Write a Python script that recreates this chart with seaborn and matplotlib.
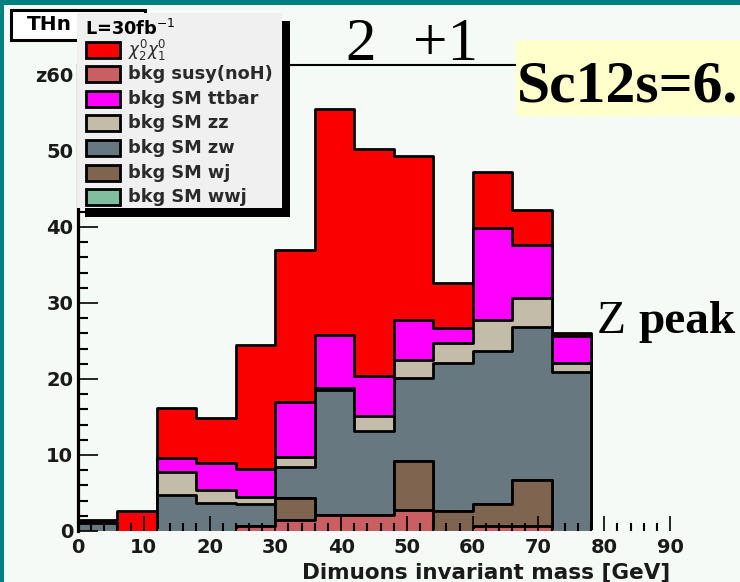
import numpy as np
import pandas as pd
import matplotlib
matplotlib.use("Agg")
import matplotlib.pyplot as plt
import seaborn as sns
from matplotlib.patches import Rectangle

# ---- histogram content: dimuon invariant mass, 6 GeV bins from 0 to 78 GeV ----
bin_edges = [0, 6, 12, 18, 24, 30, 36, 42, 48, 54, 60, 66, 72, 78]

# stacked from the bottom up
bkg_susy  = [0.0, 0.0, 0.0, 0.0, 0.6, 1.4, 2.1, 2.1, 2.8, 0.0, 0.6, 0.6, 0.0]
bkg_wj    = [0.0, 0.0, 0.0, 0.0, 0.0, 2.9, 0.0, 0.0, 6.4, 2.6, 3.0, 6.1, 0.0]
bkg_wwj   = [0.0, 0.0, 0.0, 0.0, 0.0, 0.0, 0.0, 0.0, 0.0, 0.0, 0.0, 0.0, 0.0]
bkg_zw    = [1.0, 0.0, 4.7, 3.7, 2.9, 4.1, 16.4, 11.1, 10.9, 19.5, 20.1, 20.1, 20.9]
bkg_zz    = [0.0, 0.0, 3.1, 1.7, 1.0, 1.3, 0.3, 1.9, 2.4, 2.6, 4.1, 3.8, 1.2]
bkg_ttbar = [0.0, 0.0, 1.8, 3.5, 3.7, 7.3, 7.0, 5.3, 5.3, 2.0, 12.1, 7.0, 3.6]
signal    = [0.5, 2.6, 6.6, 6.0, 16.3, 20.0, 29.7, 29.9, 21.5, 5.9, 7.3, 4.6, 0.3]

layer_names = ["bkg susy(noH)", "bkg SM wj", "bkg SM wwj", "bkg SM zw",
               "bkg SM zz", "bkg SM ttbar", "signal"]
layer_values = [bkg_susy, bkg_wj, bkg_wwj, bkg_zw, bkg_zz, bkg_ttbar, signal]
layer_colors = ["#c95f62", "#7f6550", "#7fbf9f", "#687881",
                "#c2bca9", "#ff00ff", "#fa0000"]

# legend order (top to bottom)
legend_labels = [r"$\chi^{0}_{2}\chi^{0}_{1}$", "bkg susy(noH)",
                 "bkg SM ttbar", "bkg SM zz", "bkg SM zw", "bkg SM wj", "bkg SM wwj"]
legend_colors = ["#fa0000", "#c95f62", "#ff00ff", "#c2bca9",
                 "#687881", "#7f6550", "#7fbf9f"]

y_tick_values = [0, 10, 20, 30, 40, 50, 60]
y_tick_labels = ["0", "10", "20", "30", "40", "50", "z60"]
x_tick_values = [0, 10, 20, 30, 40, 50, 60, 70, 80, 90]

W, H = 740, 582
BG = "#f5faf7"
Y_MAX = 61.3
EDGE_CUT = 0.25   # outlines are kept off the zero line

plt.rcParams["font.family"] = ["DejaVu Sans"]

fig = plt.figure(figsize=(W / 100, H / 100), dpi=100)
fig.patch.set_facecolor(BG)
ax = fig.add_axes([78 / W, 51 / H, 592 / W, 466 / H])
ax.set_facecolor(BG)
ax.set_xlim(0, 90)
ax.set_ylim(0, Y_MAX)

# cumulative stack, drawn from the total down like a THStack
centers = [(a + b) / 2 for a, b in zip(bin_edges[:-1], bin_edges[1:])]
cumulative = np.cumsum(np.array(layer_values), axis=0)

upper_clip = Rectangle((0, EDGE_CUT), 90, Y_MAX, transform=ax.transData)
lower_clip = Rectangle((0, 0), 90, EDGE_CUT, transform=ax.transData)

for i in reversed(range(len(layer_values))):
    frame = pd.DataFrame({"mass": centers, "events": cumulative[i]})
    # outlined fill above the zero line
    n_before = len(ax.collections)
    sns.histplot(data=frame, x="mass", weights="events", bins=bin_edges,
                 element="step", fill=True, color=layer_colors[i], alpha=1.0,
                 edgecolor="black", linewidth=2.0, ax=ax)
    for coll in ax.collections[n_before:]:
        coll.set_clip_path(upper_clip)
    # plain fill for the thin strip on the zero line
    n_before = len(ax.collections)
    sns.histplot(data=frame, x="mass", weights="events", bins=bin_edges,
                 element="step", fill=True, color=layer_colors[i], alpha=1.0,
                 linewidth=0, ax=ax)
    for coll in ax.collections[n_before:]:
        coll.set_clip_path(lower_clip)

ax.set_xlim(0, 90)
ax.set_ylim(0, Y_MAX)

for side in ("right", "bottom"):
    ax.spines[side].set_visible(False)
ax.spines["left"].set_linewidth(2.3)
ax.spines["top"].set_linewidth(1.5)

ax.set_xticks(x_tick_values)
ax.set_xticks(np.arange(0, 91, 2), minor=True)
ax.set_yticks(y_tick_values)
ax.set_yticks(np.arange(0, 61, 2), minor=True)
ax.set_yticklabels(y_tick_labels)
ax.tick_params(axis="x", which="major", direction="in", length=10.5, width=1.2,
               top=False, labelsize=14, pad=5, labelcolor="#1a1a1a")
ax.tick_params(axis="x", which="minor", direction="in", length=6, width=1.5, top=False)
ax.tick_params(axis="y", which="major", direction="in", length=14.5, width=1.2,
               right=False, labelsize=14, pad=3.5, labelcolor="#1a1a1a")
ax.tick_params(axis="y", which="minor", direction="in", length=7.2, width=1.5, right=False)
plt.setp(ax.get_xticklabels(), fontweight="bold")
plt.setp(ax.get_yticklabels(), fontweight="bold")

ax.set_ylabel("")
ax.set_xlabel("Dimuons invariant mass [GeV]", fontsize=15.5, fontweight="bold",
              color="#1a1a1a", loc="right")
ax.xaxis.set_label_coords(1.0, -0.0665)


def px_rect(x0, y0, x1, y1, **kw):
    fig.add_artist(Rectangle((x0 / W, 1 - y1 / H), (x1 - x0) / W, (y1 - y0) / H,
                             transform=fig.transFigure, **kw))


def px_text(x, y, s, **kw):
    fig.text(x / W, 1 - y / H, s, **kw)


# title box behind the legend
px_rect(11, 10, 145, 40, facecolor="#ffffff", edgecolor="black", linewidth=2.2, zorder=4)
px_text(27, 25, "THn", fontsize=14.5, fontweight="bold", va="center", ha="left", zorder=5)

# legend with drop shadow
px_rect(85, 21, 290, 217, facecolor="black", edgecolor="none", zorder=6)
px_rect(77, 13, 282, 208, facecolor="#f0f0f0", edgecolor="none", zorder=7)
px_text(85, 29, r"L=30fb$^{-1}$", fontsize=12.8, fontweight="bold",
        va="center", ha="left", zorder=8)
row_y = [50, 74, 99, 123, 148, 173, 197]
for yc, lab, col in zip(row_y, legend_labels, legend_colors):
    px_rect(86, yc - 8, 120, yc + 8, facecolor=col, edgecolor="black",
            linewidth=2.0, zorder=8)
    px_text(128, yc, lab, fontsize=12.8 if not lab.startswith("$") else 12,
            fontweight="bold", color="#2a2a2a", va="center", ha="left", zorder=8)

# annotations
px_text(345, 60, "2", fontsize=44, family="Liberation Serif", va="baseline", zorder=8)
px_text(413, 60, "+1", fontsize=44, family="Liberation Serif", va="baseline", zorder=8)

px_rect(516, 40, 741, 116, facecolor="#ffffcc", edgecolor="none", zorder=7)
px_text(517, 102, "Sc12s=6.", fontsize=43, fontweight="bold",
        family="Liberation Serif", va="baseline", zorder=8)

px_text(597, 333, "Z", fontsize=34, family="Liberation Serif", va="baseline", zorder=8)
px_text(638, 333, "peak", fontsize=34, fontweight="bold",
        family="Liberation Serif", va="baseline", zorder=8)

# canvas border
px_rect(0, 0, 4, H, facecolor="#008080", edgecolor="none", zorder=10)
px_rect(0, 0, W, 5, facecolor="#008080", edgecolor="none", zorder=10)

fig.savefig("out.png", dpi=100, facecolor=BG)
